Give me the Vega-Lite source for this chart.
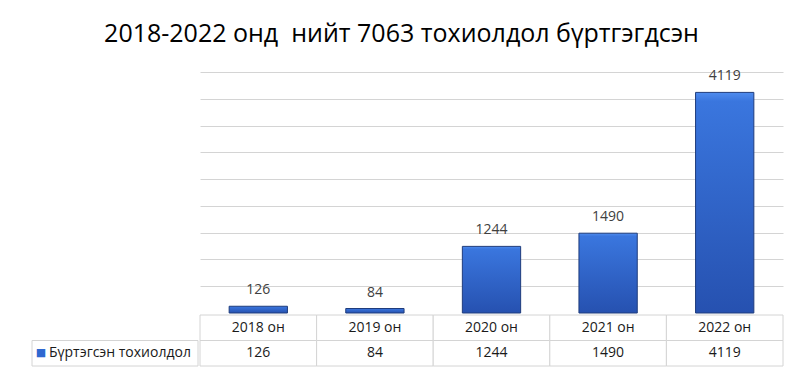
{
  "$schema": "https://vega.github.io/schema/vega-lite/v6.json",
  "padding": {"top": 22, "left": 31, "right": 20, "bottom": 5},
  "background": "white",
  "title": {"text": "2018-2022 онд\u00a0 нийт 7063 тохиолдол бүртгэгдсэн", "font": "Open Sans", "fontSize": 25, "fontWeight": "normal", "color": "#000000", "anchor": "middle", "dx": -6, "offset": 22},
  "config": {"view": {"stroke": null}, "font": "Open Sans"},
  "datasets": {
    "cases": [
      {"year": "2018 он", "value": 126},
      {"year": "2019 он", "value": 84},
      {"year": "2020 он", "value": 1244},
      {"year": "2021 он", "value": 1490},
      {"year": "2022 он", "value": 4119}
    ]
  },
  "columns": 2,
  "spacing": 0,
  "concat": [
    {
      "width": 166, "height": 241,
      "data": {"values": []},
      "mark": "rect",
      "encoding": {}
    },
    {
      "width": 583, "height": 241,
      "data": {"name": "cases"},
      "encoding": {
        "x": {"field": "year", "type": "nominal", "sort": null, "axis": null,
              "scale": {"paddingInner": 0.5, "paddingOuter": 0.25}},
        "y": {"field": "value", "type": "quantitative",
              "scale": {"domain": [0, 4500], "nice": false},
              "axis": {"values": [500, 1000, 1500, 2000, 2500, 3000, 3500, 4000, 4500], "labels": false, "ticks": false, "domain": false, "title": null, "grid": true, "gridColor": "#d4d4d4", "gridWidth": 1}}
      },
      "layer": [
        {"mark": {"type": "bar", "stroke": "#1f3c7c", "strokeWidth": 1,
                  "color": {"gradient": "linear", "x1": 0, "y1": 0, "x2": 0, "y2": 1,
                            "stops": [{"offset": 0, "color": "#4f8cee"}, {"offset": 0.04, "color": "#3a76de"}, {"offset": 1, "color": "#2651b0"}]}}},
        {"mark": {"type": "text", "baseline": "alphabetic", "dy": -12, "fontSize": 14, "color": "#404040"},
         "encoding": {"text": {"field": "value", "type": "quantitative"}}}
      ]
    },
    {
      "width": 166, "height": 51,
      "data": {"values": [{"label": "Бүртэгсэн тохиолдол"}]},
      "encoding": {
        "y": {"datum": "v", "type": "nominal", "scale": {"domain": ["h", "v"], "type": "band", "paddingInner": 0, "paddingOuter": 0}, "axis": null}
      },
      "layer": [
        {"mark": {"type": "rect", "fill": "white", "stroke": "#d4d4d4", "strokeWidth": 1}},
        {"mark": {"type": "text", "align": "left", "dx": -66, "fontSize": 14, "color": "#1a1a1a"},
         "encoding": {"text": {"field": "label", "type": "nominal"}}},
        {"mark": {"type": "text", "align": "center", "dx": -74, "fontSize": 11, "font": "DejaVu Sans", "color": "#2f68d0", "text": "■"}}
      ]
    },
    {
      "width": 583, "height": 51,
      "data": {"name": "cases"},
      "encoding": {
        "x": {"field": "year", "type": "nominal", "sort": null, "axis": null,
              "scale": {"paddingInner": 0, "paddingOuter": 0}}
      },
      "layer": [
        {"mark": {"type": "rect", "fill": "white", "stroke": "#d4d4d4", "strokeWidth": 1},
         "encoding": {"y": {"datum": "h", "type": "nominal", "scale": {"domain": ["h", "v"], "type": "band", "paddingInner": 0, "paddingOuter": 0}, "axis": null}}},
        {"mark": {"type": "rect", "fill": "white", "stroke": "#d4d4d4", "strokeWidth": 1},
         "encoding": {"y": {"datum": "v", "type": "nominal"}}},
        {"mark": {"type": "text", "fontSize": 14, "color": "#1a1a1a"},
         "encoding": {"y": {"datum": "h", "type": "nominal"}, "text": {"field": "year", "type": "nominal"}}},
        {"mark": {"type": "text", "fontSize": 14, "color": "#1a1a1a"},
         "encoding": {"y": {"datum": "v", "type": "nominal"}, "text": {"field": "value", "type": "quantitative"}}}
      ]
    }
  ]
}
